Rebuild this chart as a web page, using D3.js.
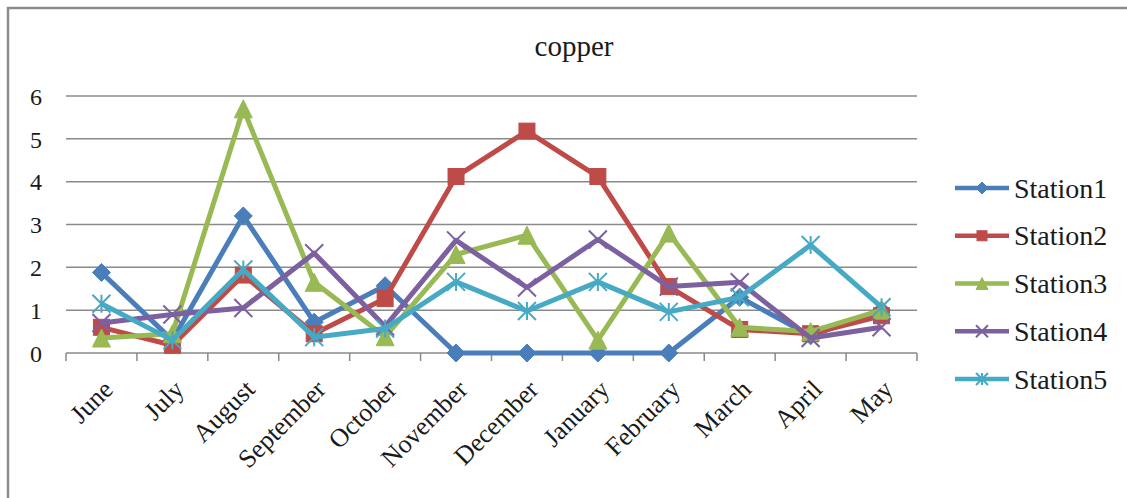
<!DOCTYPE html>
<html>
<head>
<meta charset="utf-8">
<script src="https://cdn.jsdelivr.net/npm/d3@7"></script>
<style>
  html, body { margin: 0; padding: 0; background: #fff; }
  svg { display: block; }
</style>
</head>
<body>
<svg id="chart" width="1127" height="498"></svg>
<script>
// Monthly copper readings at five stations
const months = ["June", "July", "August", "September", "October", "November",
                "December", "January", "February", "March", "April", "May"];
const station1 = [1.88, 0.3, 3.2, 0.72, 1.57, 0, 0, 0, 0, 1.3, 0.4, 1.0];
const station2 = [0.6, 0.18, 1.82, 0.45, 1.27, 4.12, 5.18, 4.12, 1.55, 0.55, 0.45, 0.87];
const station3 = [0.35, 0.45, 5.7, 1.65, 0.38, 2.3, 2.75, 0.3, 2.8, 0.6, 0.5, 1.0];
const station4 = [0.7, 0.9, 1.05, 2.33, 0.62, 2.63, 1.53, 2.65, 1.55, 1.65, 0.35, 0.6];
const station5 = [1.15, 0.3, 1.95, 0.37, 0.57, 1.66, 0.98, 1.66, 0.96, 1.3, 2.52, 1.07];
const seriesNames = ["Station1", "Station2", "Station3", "Station4", "Station5"];
const yTicks = [0, 1, 2, 3, 4, 5, 6];
const chartTitle = "copper";

const seriesValues = [station1, station2, station3, station4, station5];
const lineColors = ["#4a7ebb", "#be4b48", "#98b954", "#7d60a0", "#46aac5"];
const markerShapes = ["diamond", "square", "triangle", "cross", "star"];
const SERIF = "'Liberation Serif', 'Times New Roman', serif";

const svg = d3.select("#chart");
const W = 1127, H = 498;

// chart frame
svg.append("path")
  .attr("d", `M8,${H} L8,8 L${W},8`)
  .attr("fill", "none")
  .attr("stroke", "#8c8c8c")
  .attr("stroke-width", 2.5);

const plot = { left: 66, right: 917, top: 96, bottom: 353 };

const x = d3.scaleBand().domain(months).range([plot.left, plot.right]).padding(0);
const y = d3.scaleLinear().domain([0, 6]).range([plot.bottom, plot.top]);

// horizontal gridlines
svg.append("g")
  .selectAll("line")
  .data(yTicks.filter(t => t > 0))
  .join("line")
  .attr("x1", plot.left).attr("x2", plot.right)
  .attr("y1", d => y(d)).attr("y2", d => y(d))
  .attr("stroke", "#8a8a8a")
  .attr("stroke-width", 1.5);

// y axis labels
const yAxis = d3.axisLeft(y).tickValues(yTicks).tickSize(0).tickPadding(0).tickFormat(d3.format("d"));
const gy = svg.append("g").attr("transform", `translate(${plot.left - 24},0)`).call(yAxis);
gy.select(".domain").remove();
gy.attr("font-family", null).attr("font-size", null);
gy.selectAll("text")
  .style("font-family", SERIF)
  .style("font-size", "24px")
  .attr("fill", "#1a1a1a")
  .attr("dy", "0.34em");

// x axis line with ticks at category boundaries
const gx = svg.append("g").attr("transform", `translate(0,${plot.bottom})`);
gx.append("line")
  .attr("x1", plot.left).attr("x2", plot.right)
  .attr("stroke", "#8a8a8a").attr("stroke-width", 1.5);
const boundaries = months.map(m => x(m)).concat([x(months[months.length - 1]) + x.bandwidth()]);
gx.selectAll("line.tick")
  .data(boundaries)
  .join("line")
  .attr("class", "tick")
  .attr("x1", d => d).attr("x2", d => d)
  .attr("y1", 0).attr("y2", 8)
  .attr("stroke", "#8a8a8a").attr("stroke-width", 1.5);

// rotated month labels
svg.append("g")
  .selectAll("text")
  .data(months)
  .join("text")
  .attr("transform", d => `translate(${x(d) + x.bandwidth() / 2 + 13},${plot.bottom + 38}) rotate(-45)`)
  .attr("text-anchor", "end")
  .style("font-family", SERIF)
  .style("font-size", "26px")
  .attr("fill", "#1a1a1a")
  .text(d => d);

// title
svg.append("text")
  .attr("x", 574).attr("y", 56)
  .attr("text-anchor", "middle")
  .style("font-family", SERIF)
  .style("font-size", "29px")
  .attr("fill", "#1a1a1a")
  .text(chartTitle);

// marker drawing
function drawMarker(sel, shape, color, size) {
  const s = size;
  if (shape === "diamond") {
    sel.append("path").attr("d", `M0,${-s / 2} L${s / 2},0 L0,${s / 2} L${-s / 2},0 Z`)
      .attr("fill", color).attr("stroke", color).attr("stroke-width", 1);
  } else if (shape === "square") {
    sel.append("rect").attr("x", -s / 2 + 1).attr("y", -s / 2 + 1).attr("width", s - 2).attr("height", s - 2)
      .attr("fill", color).attr("stroke", color).attr("stroke-width", 1);
  } else if (shape === "triangle") {
    sel.append("path").attr("d", `M0,${-s / 2} L${s / 2},${s / 2} L${-s / 2},${s / 2} Z`)
      .attr("fill", color).attr("stroke", color).attr("stroke-width", 1);
  } else if (shape === "cross") {
    const h = s / 2;
    sel.append("path").attr("d", `M${-h},${-h} L${h},${h} M${-h},${h} L${h},${-h}`)
      .attr("fill", "none").attr("stroke", color).attr("stroke-width", 2);
  } else if (shape === "star") {
    const h = s / 2;
    sel.append("path").attr("d", `M${-h},${-h} L${h},${h} M${-h},${h} L${h},${-h} M0,${-h} L0,${h}`)
      .attr("fill", "none").attr("stroke", color).attr("stroke-width", 2);
  }
}

const line = d3.line()
  .x((d, i) => x(months[i]) + x.bandwidth() / 2)
  .y(d => y(d));

seriesValues.forEach((vals, k) => {
  const g = svg.append("g");
  g.append("path")
    .datum(vals)
    .attr("d", line)
    .attr("fill", "none")
    .attr("stroke", lineColors[k])
    .attr("stroke-width", 5)
    .attr("stroke-linejoin", "round");
  g.selectAll("g.m")
    .data(vals)
    .join("g")
    .attr("class", "m")
    .attr("transform", (d, i) => `translate(${x(months[i]) + x.bandwidth() / 2},${y(d)})`)
    .each(function () { drawMarker(d3.select(this), markerShapes[k], lineColors[k], 18); });
});

// legend
const legendRows = d3.scalePoint().domain(seriesNames).range([188, 379]);
const legend = svg.append("g");
seriesNames.forEach((name, k) => {
  const ly = legendRows(name);
  const row = legend.append("g").attr("transform", `translate(0,${ly})`);
  row.append("line").attr("x1", 955).attr("x2", 1009).attr("y1", 0).attr("y2", 0)
    .attr("stroke", lineColors[k]).attr("stroke-width", 4.5);
  const mk = row.append("g").attr("transform", "translate(982,0)");
  drawMarker(mk, markerShapes[k], lineColors[k], 12);
  row.append("text").attr("x", 1014).attr("y", 0).attr("dy", "0.34em")
    .style("font-family", SERIF)
    .style("font-size", "28px")
    .attr("fill", "#1a1a1a")
    .text(name);
});
</script>
</body>
</html>
